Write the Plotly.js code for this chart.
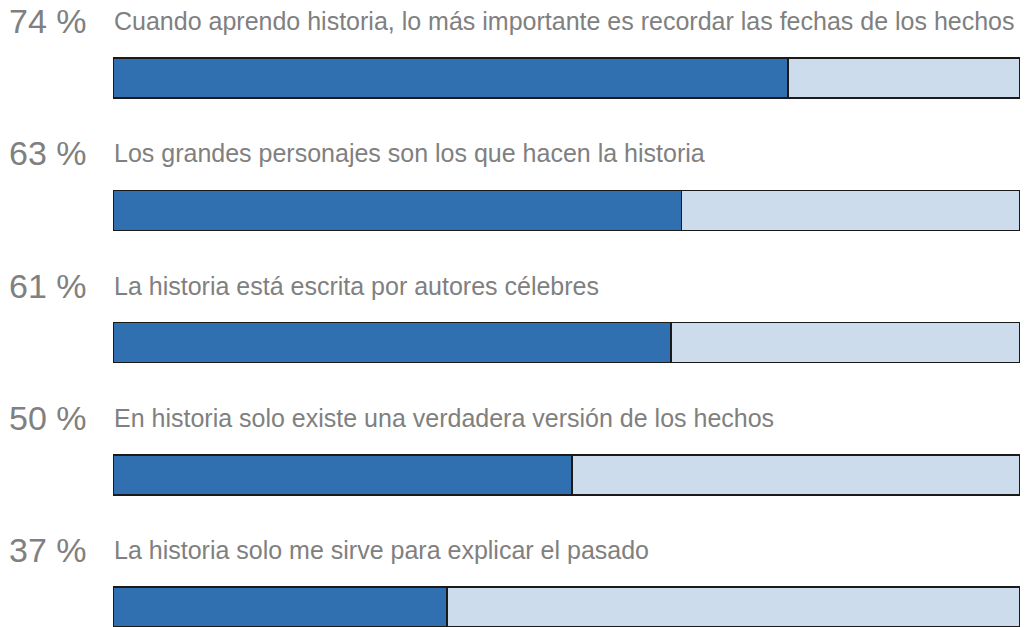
<!DOCTYPE html>
<html>
<head>
<meta charset="utf-8">
<script src="https://cdn.plot.ly/plotly-3.0.1.min.js"></script>
<style>html,body{margin:0;padding:0;background:#fff;}#chart{width:1030px;height:627px;}</style>
</head>
<body>
<div id="chart"></div>
<script>
const statements = [
  "Cuando aprendo historia, lo más importante es recordar las fechas de los hechos",
  "Los grandes personajes son los que hacen la historia",
  "La historia está escrita por autores célebres",
  "En historia solo existe una verdadera versión de los hechos",
  "La historia solo me sirve para explicar el pasado"
];
const pctLabels = ["74 %", "63 %", "61 %", "50 %", "37 %"];
const agree = [74.4, 62.7, 61.5, 50.6, 36.8];
const rest = agree.map(v => 100 - v);
const pos = statements.map((s, i) => i);

const lineStyle = {color: '#1a1a1a', width: 1.5};
const traces = [
  {type: 'bar', orientation: 'h', y: pos, x: agree, width: 0.3025,
   marker: {color: '#3070b0', line: lineStyle}, hoverinfo: 'skip'},
  {type: 'bar', orientation: 'h', y: pos, x: rest, width: 0.3025,
   marker: {color: '#ccdcec', line: lineStyle}, hoverinfo: 'skip'}
];

const annotations = [];
statements.forEach((s, i) => {
  annotations.push({xref: 'x', yref: 'y', x: 0, y: i, yshift: 57, xshift: -24,
    xanchor: 'right', yanchor: 'middle', showarrow: false,
    text: pctLabels[i], font: {family: 'Liberation Sans, Arial, sans-serif', size: 34, color: '#808080'}});
  annotations.push({xref: 'x', yref: 'y', x: 0, y: i, yshift: 57, xshift: -1,
    xanchor: 'left', yanchor: 'middle', showarrow: false,
    text: s, font: {family: 'Liberation Sans, Arial, sans-serif', size: 25, color: '#808080'}});
});

const layout = {
  width: 1030, height: 627,
  margin: {l: 113, r: 10, t: 0, b: 0, pad: 0},
  barmode: 'stack',
  showlegend: false,
  paper_bgcolor: '#ffffff', plot_bgcolor: '#ffffff',
  xaxis: {range: [0, 100], visible: false, fixedrange: true},
  yaxis: {range: [4.151, -0.5898], visible: false, fixedrange: true},
  annotations: annotations
};
Plotly.newPlot('chart', traces, layout, {displayModeBar: false, staticPlot: true});
</script>
</body>
</html>
